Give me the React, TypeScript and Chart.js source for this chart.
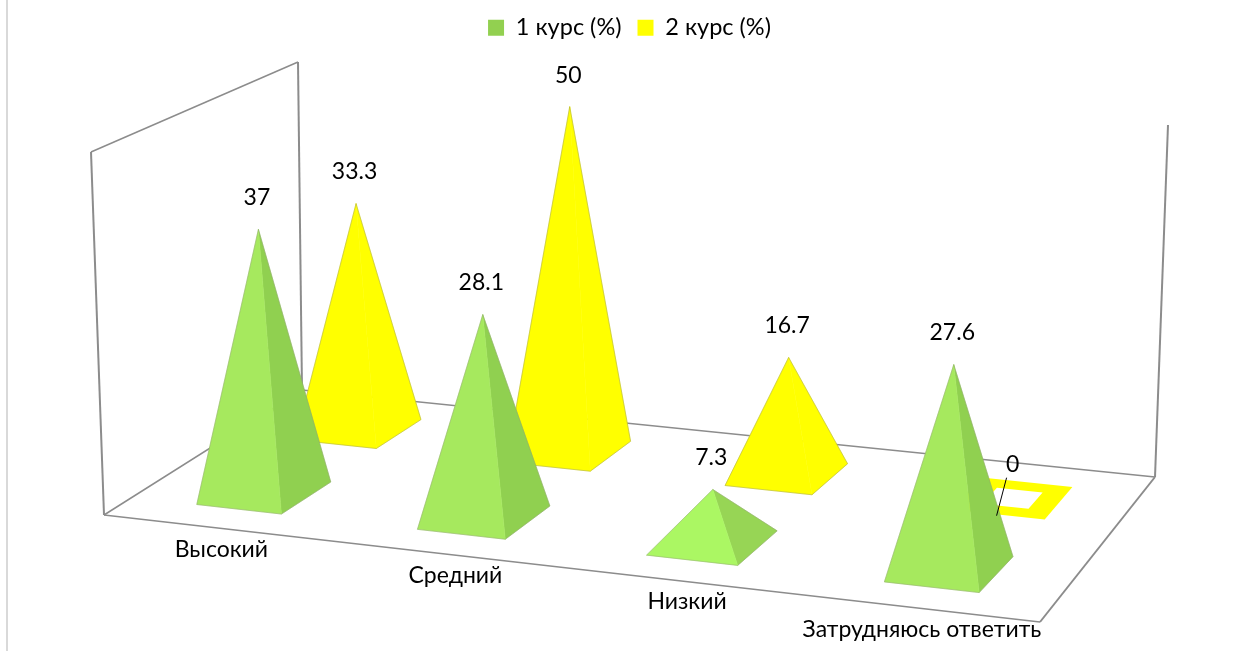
import React, { useEffect, useRef } from "react";
import { Chart, registerables } from "chart.js";

Chart.register(...registerables);

const categories = ["Высокий", "Средний", "Низкий", "Затрудняюсь ответить"];
const course1 = [37, 28.1, 7.3, 27.6];
const course2 = [33.3, 50, 16.7, 0];
const seriesNames = ["1 курс (%)", "2 курс (%)"];
const axisMax = 50;

const FONT = "Lato, Carlito, sans-serif";
const LABEL_SIZE = 23;
const LEGEND_SIZE = 23.5;

// Perspective box (pixel frame of the 3D scene)
const FLOOR = { a: [104, 515], b: [1040, 622], c: [1155, 477], d: [302, 390] };
const RISE = { a: [-13, -363], b: [10, -380], c: [13, -352], d: [-4, -328] };
const CATEGORY_LABEL_DX = [8, 17, 15, 7];

type P = [number, number];

function floorPoint(u: number, v: number): P {
  const { a, b, c, d } = FLOOR;
  const dx1 = b[0] - c[0], dx2 = d[0] - c[0], sx = a[0] - b[0] + c[0] - d[0];
  const dy1 = b[1] - c[1], dy2 = d[1] - c[1], sy = a[1] - b[1] + c[1] - d[1];
  const den = dx1 * dy2 - dx2 * dy1;
  const g = (sx * dy2 - dx2 * sy) / den;
  const h = (dx1 * sy - sx * dy1) / den;
  const w = 1 + g * u + h * v;
  return [
    ((b[0] - a[0] + g * b[0]) * u + (d[0] - a[0] + h * d[0]) * v + a[0]) / w,
    ((b[1] - a[1] + g * b[1]) * u + (d[1] - a[1] + h * d[1]) * v + a[1]) / w,
  ];
}

function project(u: number, v: number, t: number): P {
  const f = floorPoint(u, v);
  const bl = (k: 0 | 1) =>
    (1 - u) * (1 - v) * RISE.a[k] + u * (1 - v) * RISE.b[k] + u * v * RISE.c[k] + (1 - u) * v * RISE.d[k];
  return [f[0] + t * bl(0), f[1] + t * bl(1)];
}

function path(ctx: CanvasRenderingContext2D, pts: P[]) {
  ctx.beginPath();
  pts.forEach((p, i) => (i ? ctx.lineTo(p[0], p[1]) : ctx.moveTo(p[0], p[1])));
}

function face(ctx: CanvasRenderingContext2D, pts: P[], fill: string) {
  path(ctx, pts);
  ctx.closePath();
  ctx.fillStyle = fill;
  ctx.fill();
  ctx.strokeStyle = fill;
  ctx.lineWidth = 0.5;
  ctx.stroke();
}

function segment(ctx: CanvasRenderingContext2D, pts: P[], color: string, width: number, close = false) {
  path(ctx, pts);
  if (close) ctx.closePath();
  ctx.strokeStyle = color;
  ctx.lineWidth = width;
  ctx.stroke();
}

const pyramidPlugin = {
  id: "pyramids",
  beforeDatasetsDraw(chart: any) {
    const { ctx, scales, chartArea } = chart;
    const xs = scales.x, ys = scales.y;
    const U = (i: number) => (xs.getPixelForValue(i) - chartArea.left) / chartArea.width;
    const T = (val: number) => (chartArea.bottom - ys.getPixelForValue(val)) / chartArea.height;
    const nSeries = chart.data.datasets.length;
    const halfU = 0.05, halfV = 0.12;

    ctx.save();
    // page frame line
    segment(ctx, [[7, 0], [7, 651]], "#D9D9D9", 2);

    // box: walls and floor
    const wall = "#8C8C8C";
    const A0 = project(0, 0, 0), B0 = project(1, 0, 0), C0 = project(1, 1, 0), D0 = project(0, 1, 0);
    const A1 = project(0, 0, 1), C1 = project(1, 1, 1), D1 = project(0, 1, 1);
    segment(ctx, [D0, D1], wall, 2);
    segment(ctx, [C0, C1], wall, 2);
    segment(ctx, [A0, A1], wall, 2);
    segment(ctx, [A1, D1], wall, 1.5);
    segment(ctx, [A0, D0, C0], wall, 1.5);
    segment(ctx, [A0, B0], wall, 1.5);
    segment(ctx, [B0, C0], wall, 2);

    const labels: { p: P; text: string; zero: boolean }[] = [];

    for (let s = nSeries - 1; s >= 0; s--) {
      const ds = chart.data.datasets[s];
      const vc = (s + 0.5) / nSeries;
      ds.data.forEach((val: number, i: number) => {
        const u = U(i);
        const FL = project(u - halfU, vc - halfV, 0);
        const FR = project(u + halfU - 0.003, vc - halfV, 0);
        const BR = project(u + halfU, vc + halfV, 0);
        const BL = project(u - halfU, vc + halfV, 0);
        const t = T(val);
        const apex = project(u, vc, t);
        const low = t < 0.25;
        if (val === 0) {
          path(ctx, [FL, project(u + halfU, vc - halfV, 0), BR, BL]);
          ctx.closePath();
          ctx.fillStyle = ds.frontColor;
          ctx.fill();
          const q = 0.5;
          path(ctx, [
            project(u - halfU * q, vc - halfV * q, 0),
            project(u + halfU * q, vc - halfV * q, 0),
            project(u + halfU * q, vc + halfV * q, 0),
            project(u - halfU * q, vc + halfV * q, 0),
          ]);
          ctx.closePath();
          ctx.fillStyle = "#FFFFFF";
          ctx.fill();
        } else {
          face(ctx, [BR, apex, FR], low ? ds.sideColorLow : ds.sideColor);
          face(ctx, [FL, FR, apex], low ? ds.frontColorLow : ds.frontColor);
          segment(ctx, [FL, apex, BR, FR], ds.edgeColor, 0.75, true);
        }
        labels.push({ p: apex, text: String(val), zero: val === 0 });
      });
    }

    // value labels
    ctx.fillStyle = "#000";
    ctx.font = `${LABEL_SIZE}px ${FONT}`;
    ctx.textAlign = "center";
    ctx.textBaseline = "middle";
    labels.forEach((l) => {
      const x = l.p[0] - (l.zero ? 0 : 1.5);
      const y = l.p[1] - (l.zero ? 33.5 : 31.5);
      ctx.fillStyle = "#000";
      ctx.fillText(l.text, x, y);
      if (l.zero) segment(ctx, [[x - 6, y + 13], [x - 16, y + 51]], "#000", 1);
    });

    // category labels, below the front floor edge
    ctx.fillStyle = "#000";
    categories.forEach((c, i) => {
      const p = project(U(i), 0, 0);
      ctx.fillText(c, p[0] + CATEGORY_LABEL_DX[i], p[1] + 22);
    });
    ctx.restore();
    return false;
  },
};

export default function App() {
  const ref = useRef<HTMLCanvasElement>(null);
  useEffect(() => {
    document.body.style.margin = "0";
    const chart = new Chart(ref.current!, {
      type: "bar",
      data: {
        labels: categories,
        datasets: [
          {
            label: seriesNames[0],
            data: course1,
            backgroundColor: "#92D050",
            frontColor: "#A6E95E",
            sideColor: "#90D050",
            frontColorLow: "#ABF763",
            sideColorLow: "#97D555",
            edgeColor: "rgba(140,150,120,0.55)",
          } as any,
          {
            label: seriesNames[1],
            data: course2,
            backgroundColor: "#FFFF00",
            frontColor: "#FFFF00",
            sideColor: "#FFFF00",
            frontColorLow: "#FFFF00",
            sideColorLow: "#FFFF00",
            edgeColor: "rgba(150,150,90,0.6)",
          } as any,
        ],
      },
      options: {
        responsive: false,
        animation: false,
        layout: { padding: { left: 18 } },
        scales: {
          x: { display: false },
          y: { display: false, min: 0, max: axisMax },
        },
        plugins: {
          tooltip: { enabled: false },
          legend: {
            position: "top",
            onClick: () => {},
            labels: {
              boxWidth: 16,
              boxHeight: 16,
              padding: 16,
              color: "#000",
              font: { family: FONT, size: LEGEND_SIZE },
            },
          },
        },
      },
      plugins: [pyramidPlugin],
    });
    return () => chart.destroy();
  }, []);
  return <canvas ref={ref} width={1241} height={651} style={{ display: "block" }} />;
}
